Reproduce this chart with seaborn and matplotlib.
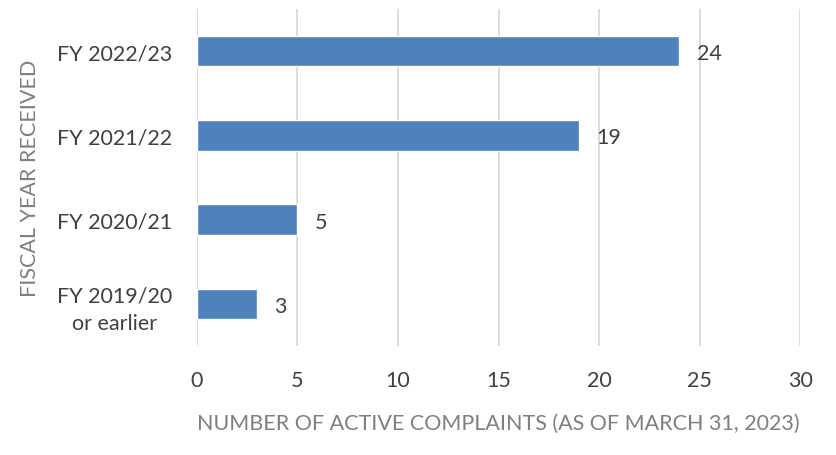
import pandas as pd
import seaborn as sns
import matplotlib.pyplot as plt

years = ['FY 2022/23', 'FY 2021/22', 'FY 2020/21', 'FY 2019/20\nor earlier']
complaints = [24, 19, 5, 3]

df = pd.DataFrame({'year': years, 'count': complaints})

sns.set_style('white')
plt.rcParams['font.family'] = ['Lato', 'DejaVu Sans']

fs = 15.5
fig = plt.figure(figsize=(8.36, 4.56), dpi=100)
ax = fig.add_axes([0.2356, 0.239, 0.7214, 0.739])

sns.barplot(data=df, x='count', y='year', orient='h', color='#4F81BD',
            saturation=1, width=0.36, ax=ax, zorder=3)

# value labels next to each bar
for i, v in enumerate(complaints):
    ax.text(v + 0.85, i, str(v), va='center_baseline', ha='left', fontsize=fs, color='#404040')

ax.set_xlim(0, 30)
ax.set_xticks(range(0, 31, 5))
ax.xaxis.grid(True, color='#D9D9D9', linewidth=1.3, zorder=0)
ax.set_axisbelow(True)
for s in ax.spines.values():
    s.set_visible(False)
ax.tick_params(axis='both', length=0, labelsize=fs, labelcolor='#404040')
ax.tick_params(axis='x', pad=17)
ax.tick_params(axis='y', pad=18)
for lbl in ax.get_yticklabels():
    lbl.set_multialignment('center')
    lbl.set_linespacing(1.45)

ax.set_xlabel('NUMBER OF ACTIVE COMPLAINTS (AS OF MARCH 31, 2023)', fontsize=fs,
              color='#7F7F7F', labelpad=17)
ax.set_ylabel('FISCAL YEAR RECEIVED', fontsize=fs, color='#7F7F7F', labelpad=12)

fig.savefig('out.png', dpi=100)
